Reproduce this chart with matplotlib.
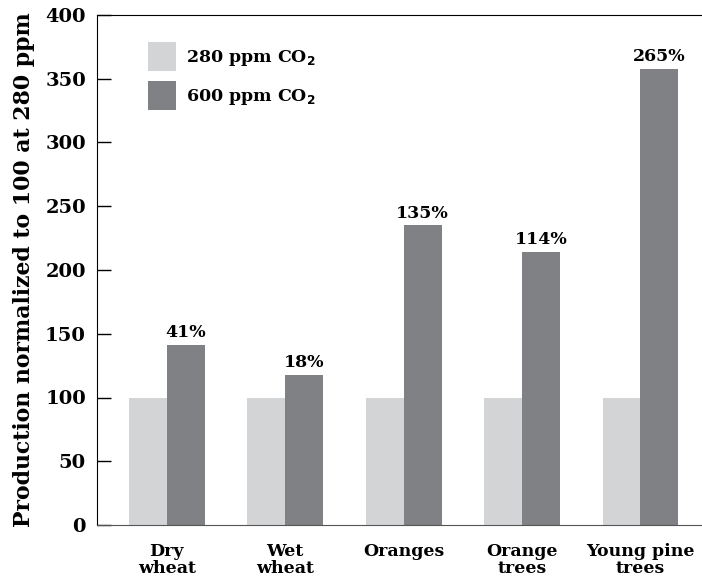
import numpy as np
import matplotlib.pyplot as plt

# Data
crops = ['Dry\nwheat', 'Wet\nwheat', 'Oranges', 'Orange\ntrees', 'Young pine\ntrees']
low_co2 = [100, 100, 100, 100, 100]
high_co2 = [141, 118, 235, 214, 358]
pct_labels = ['41%', '18%', '135%', '114%', '265%']

light = '#d3d4d6'
dark = '#808184'

plt.rcParams['font.family'] = ['DejaVu Serif']
plt.rcParams['font.weight'] = 'bold'

fig = plt.figure(figsize=(7.02, 5.79), dpi=100)
ax = fig.add_axes([97 / 702, 54 / 579, 1 - 97 / 702, 510 / 579])

x = np.arange(len(crops))
w = 0.32
b1 = ax.bar(x - w / 2, low_co2, w, color=light, label='280 ppm CO$_2$')
b2 = ax.bar(x + w / 2, high_co2, w, color=dark, label='600 ppm CO$_2$')

for rect, lab in zip(b2, pct_labels):
    ax.text(rect.get_x() + rect.get_width() / 2, rect.get_height() + 3, lab,
            ha='center', va='bottom', fontsize=12.5, fontweight='bold')

ax.set_xlim(-0.59, 4.52)
ax.set_ylim(0, 400)
ax.set_yticks(np.arange(0, 401, 50))
ax.set_xticks(x)
ax.set_xticklabels(crops, fontsize=12.5, fontweight='bold', linespacing=1.0)
ax.tick_params(axis='x', length=0, pad=13)
ax.tick_params(axis='y', direction='in', length=10, width=1, labelsize=14, pad=8)
ax.set_ylabel('Production normalized to 100 at 280 ppm', fontsize=15.8,
              fontweight='bold', labelpad=7)

ax.spines['right'].set_visible(False)
ax.spines['bottom'].set_color('#555555')

leg = ax.legend(loc='upper left', bbox_to_anchor=(0.058, 0.977), frameon=False,
                fontsize=12.5, handlelength=1.65, handleheight=2.2,
                labelspacing=0.55, handletextpad=0.55)

fig.savefig('out.png', dpi=100)
